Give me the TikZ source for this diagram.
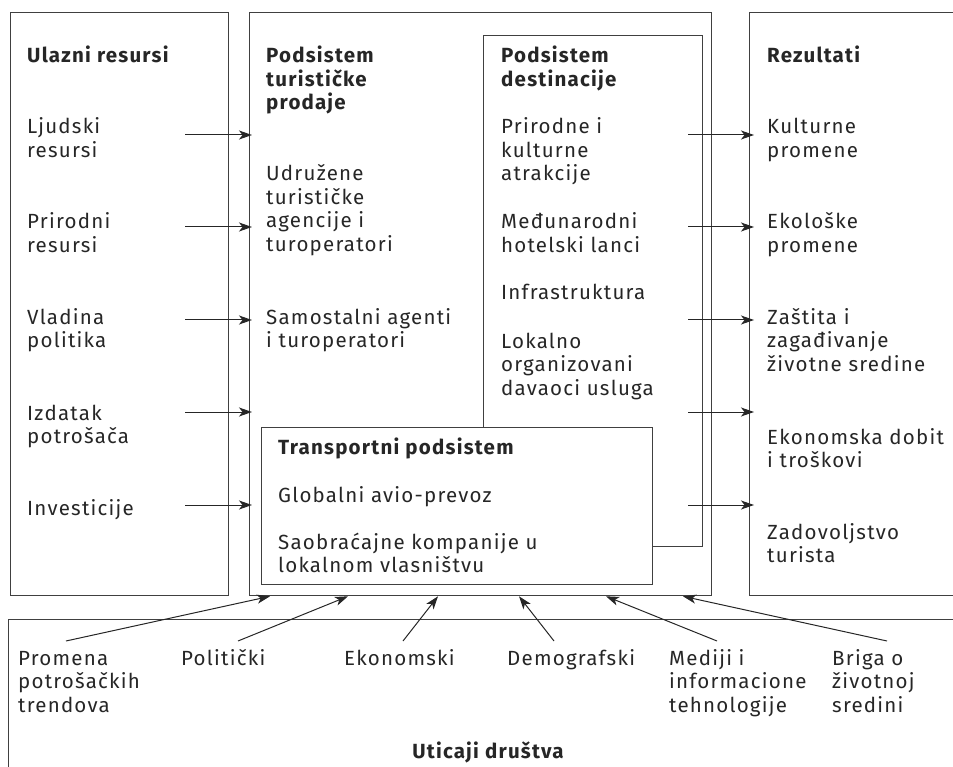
\documentclass[tikz,border=0pt]{standalone}
\usepackage{fontspec}
\setmainfont{Fira Sans}[LetterSpace=6]
\usepackage{tikz}
\usetikzlibrary{arrows.meta}
\usetikzlibrary{positioning}

\begin{document}
\begin{tikzpicture}[x=1pt, y=-1pt,
            BOX/.style={rectangle, draw=black!75, line width=1.3pt, anchor=north west, inner sep=0},
            TXT/.style={anchor=base west, align=left, inner sep=0, text=black!85, font=\fontsize{20.5}{23.5}\selectfont},
            HEAD/.style={TXT, font=\fontsize{20.5}{23.5}\selectfont\bfseries},
            ARR/.style={-{Stealth[length=13pt, width=9pt, inset=3.5pt]}, draw=black!85, line width=1pt},
        ]
        \useasboundingbox (0,0) rectangle (953,767);
        \clip (0,0) rectangle (953,767);

        % boxes
        \node[BOX, minimum width=218, minimum height=583] (Inputs) at (10,12) {};
        \node[BOX, minimum width=462, minimum height=583] (Mid) at (249,12) {};
        \node[BOX, minimum width=219, minimum height=511] (Dest) at (483,35) {};
        \node[BOX, fill=white, minimum width=391, minimum height=157] (Trans) at (261,427) {};
        \node[BOX, minimum width=230, minimum height=583] (Res) at (749,12) {};
        \node[BOX, minimum width=960, minimum height=170] (Soc) at (8,619) {};

        % ulazni resursi (base = last line)
        \node[HEAD] (InHead) at (27,63) {Ulazni resursi};
        \node[TXT] (In1) at (27,157.5) {Ljudski\\resursi};
        \node[TXT] (In2) at (27,252.5) {Prirodni\\resursi};
        \node[TXT] (In3) at (27,347.5) {Vladina\\politika};
        \node[TXT] (In4) at (27,443.5) {Izdatak\\potrošača};
        \node[TXT] (In5) at (27,515) {Investicije};

        % podsistemi
        \node[HEAD] (SaleHead) at (266,110) {Podsistem\\turističke\\prodaje};
        \node[TXT] (Sale1) at (266,251.5) {Udružene\\turističke\\agencije i\\turoperatori};
        \node[TXT] (Sale2) at (266,347.5) {Samostalni agenti\\i turoperatori};

        \node[HEAD] (DestHead) at (501,86.5) {Podsistem\\destinacije};
        \node[TXT] (Dest1) at (501,181) {Prirodne i\\kulturne\\atrakcije};
        \node[TXT] (Dest2) at (501,252.5) {Međunarodni\\hotelski lanci};
        \node[TXT] (Dest3) at (501,300) {Infrastruktura};
        \node[TXT] (Dest4) at (501,395) {Lokalno\\organizovani\\davaoci usluga};

        \node[HEAD] (TransHead) at (278,454) {Transportni podsistem};
        \node[TXT] (Trans1) at (278,502) {Globalni avio-prevoz};
        \node[TXT] (Trans2) at (278,572.5) {Saobraćajne kompanije u\\lokalnom vlasništvu};

        % rezultati
        \node[HEAD] (ResHead) at (767,63) {Rezultati};
        \node[TXT] (Res1) at (767,157.5) {Kulturne\\promene};
        \node[TXT] (Res2) at (767,252.5) {Ekološke\\promene};
        \node[TXT] (Res3) at (767,371) {Zaštita i\\zagađivanje\\životne sredine};
        \node[TXT] (Res4) at (767,467.5) {Ekonomska dobit\\i troškovi};
        \node[TXT] (Res5) at (767,562.5) {Zadovoljstvo\\turista};

        % uticaji drustva
        \node[TXT] (Soc1) at (18,712) {Promena\\potrošačkih\\trendova};
        \node[TXT] (Soc2) at (181,665) {Politički};
        \node[TXT] (Soc3) at (344,665) {Ekonomski};
        \node[TXT] (Soc4) at (507,665) {Demografski};
        \node[TXT] (Soc5) at (669,712) {Mediji i\\informacione\\tehnologije};
        \node[TXT] (Soc6) at (832,712) {Briga o\\životnoj\\sredini};
        \node[HEAD, anchor=base] (SocHead) at (488,758) {Uticaji društva};

        % strelice
        \foreach \y [count=\i] in {135,227,320,412,505} {
            \coordinate (a\i) at (185,\y);
            \coordinate (r\i) at (688,\y);
            \draw[ARR, shorten >=-3pt] (a\i) -- (a\i -| Mid.west);
            \draw[ARR, shorten >=-5pt] (r\i) -- (r\i -| Res.west);
        }
        \foreach \sx/\tx [count=\i] in {66/270, 238/348, 403/438, 554/519, 717/606, 887/683} {
            \coordinate (s\i) at (\sx,641);
            \coordinate (t\i) at (\tx,0);
            \draw[ARR] (s\i) -- (t\i |- Mid.south);
        }

    \end{tikzpicture}
\end{document}
